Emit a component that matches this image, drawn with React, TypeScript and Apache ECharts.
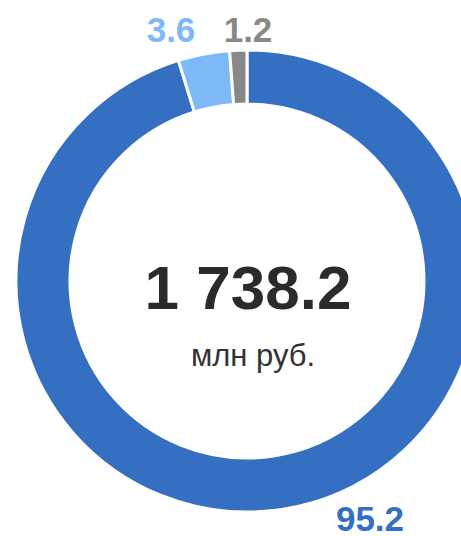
import React, { useEffect, useRef } from "react";
import * as echarts from "echarts";

const categories = ["Основная", "Вторая", "Прочее"];
const values = [95.2, 3.6, 1.2];
const colors = ["#356FC1", "#7DB9F7", "#888888"];
const totalLabel = "1 738.2";
const unitLabel = "млн руб.";

export default function App() {
  const ref = useRef<HTMLDivElement>(null);
  useEffect(() => {
    document.body.style.margin = "0";
    const chart = echarts.init(ref.current!, null, { renderer: "svg" });
    const labelPos = [
      { x: 370, y: 518 },
      { x: 171, y: 29 },
      { x: 248, y: 29 },
    ];
    chart.setOption({
      animation: false,
      series: [
        {
          type: "pie",
          center: [247, 281],
          radius: [177, 231],
          startAngle: 90,
          clockwise: true,
          avoidLabelOverlap: false,
          itemStyle: { borderColor: "#ffffff", borderWidth: 3 },
          label: {
            show: true,
            position: "outside",
            formatter: (p: any) => p.value.toFixed(1),
            fontFamily: "Liberation Sans, Arial, sans-serif",
            fontWeight: "bold",
            fontSize: 35,
            lineHeight: 30,
          },
          labelLine: { show: false },
          labelLayout: (p: any) => ({
            x: labelPos[p.dataIndex].x,
            y: labelPos[p.dataIndex].y,
            align: "center",
            verticalAlign: "middle",
          }),
          emphasis: { disabled: true },
          data: categories.map((c, i) => ({
            name: c,
            value: values[i],
            itemStyle: { color: colors[i] },
            label: { color: colors[i] },
          })),
        },
      ],
      graphic: [
        {
          type: "text",
          x: 248,
          y: 287,
          style: {
            text: totalLabel,
            fontFamily: "Liberation Sans, Arial, sans-serif",
            fontWeight: "bold",
            fontSize: 62,
            fill: "#2b2b2b",
            textAlign: "center",
            textVerticalAlign: "middle",
          },
        },
        {
          type: "text",
          x: 253,
          y: 355,
          style: {
            text: unitLabel,
            fontFamily: "Liberation Sans, Arial, sans-serif",
            fontSize: 31,
            fill: "#333333",
            textAlign: "center",
            textVerticalAlign: "middle",
          },
        },
      ],
    });
    return () => chart.dispose();
  }, []);
  return <div ref={ref} style={{ width: 461, height: 536 }} />;
}
